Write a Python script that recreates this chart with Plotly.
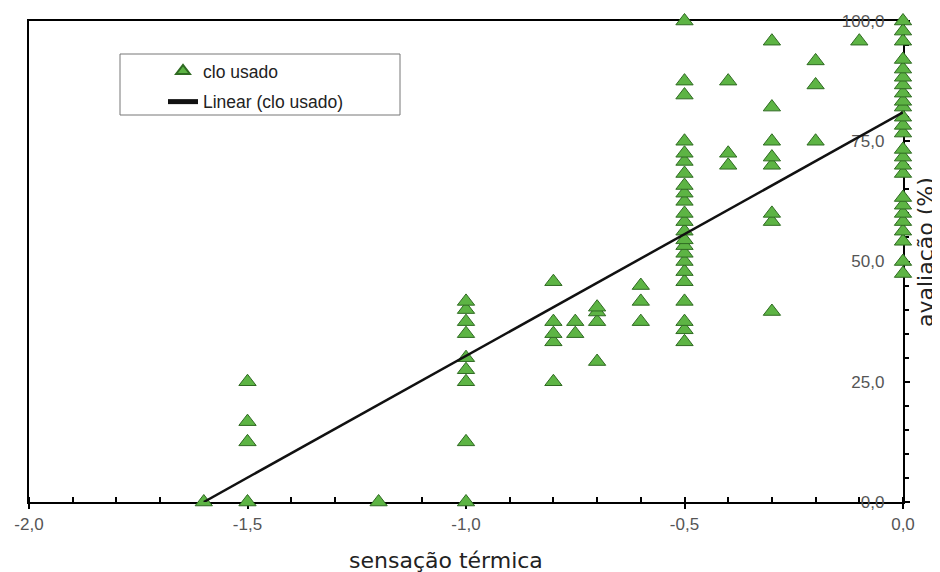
import plotly.graph_objects as go

# ---- data ----
sensacao = (
    [-1.6]
    + [-1.5] * 4
    + [-1.2]
    + [-1.0] * 9
    + [-0.8] * 5
    + [-0.75] * 2
    + [-0.7] * 4
    + [-0.6] * 3
    + [-0.5] * 23
    + [-0.4] * 3
    + [-0.3] * 8
    + [-0.2] * 3
    + [-0.1]
    + [0.0] * 25
)
avaliacao = (
    [0]
    + [0, 12.5, 16.7, 25]
    + [0]
    + [0, 12.5, 25, 27.5, 30, 35, 37.5, 40, 41.7]
    + [25, 33.3, 35, 37.5, 45.8]
    + [35, 37.5]
    + [29.2, 37.5, 39.5, 40.5]
    + [37.5, 41.7, 45]
    + [33.3, 35.8, 37.5, 41.7, 45.8, 47.9, 50, 51.7, 53.3, 54.5, 56.3, 58.3,
       60, 62.5, 64.2, 65.8, 68.3, 70.8, 72.5, 75, 84.6, 87.5, 100]
    + [70, 72.5, 87.5]
    + [39.6, 58.3, 60, 70, 71.7, 75, 82.1, 95.8]
    + [75, 86.7, 91.7]
    + [95.8]
    + [47.5, 50, 54.2, 56.3, 58.3, 60, 61.7, 63.3, 68.3, 70, 71.7, 73.3, 76.7,
       78.3, 80, 82.1, 83.3, 85, 86.7, 88.3, 90, 92, 95.8, 97.9, 100]
)

trend_x = [-1.6, 0.0]
trend_y = [0.0, 81.0]

x_tickvals = [-2.0, -1.5, -1.0, -0.5, 0.0]
x_ticktext = ["-2,0", "-1,5", "-1,0", "-0,5", "0,0"]
y_tickvals = [0, 25, 50, 75, 100]
y_ticktext = ["0,0", "25,0", "50,0", "75,0", "100,0"]

series_name = "clo usado"
trend_name = "Linear (clo usado)"
x_title = "sensação térmica"
y_title = "avaliação (%)"

# ---- figure ----
# the page body adds an 8 px offset; the figure is sized to compensate
OFF = 8
W, H = 940 - OFF, 572 - OFF
PL, PR, PT, PB = 29, 903, 21, 502          # plot area in page pixels
L, T = PL - OFF, PT - OFF
R, B = W - (PR - OFF), H - (PB - OFF)
pw, ph = PR - PL, PB - PT


def px_x(p):
    return (p - PL) / pw


def px_y(p):
    return (PB - p) / ph


fig = go.Figure()
fig.add_trace(go.Scatter(
    x=sensacao, y=avaliacao, mode="markers", name=series_name,
    legendgroup="a",
    marker=dict(symbol="triangle-up", size=15, color="#5DB444",
                line=dict(color="#2F6A22", width=1)),
    cliponaxis=False,
))
fig.add_trace(go.Scatter(
    x=trend_x, y=trend_y, mode="lines", name=trend_name,
    legendgroup="b",
    line=dict(color="#111111", width=2.5),
    cliponaxis=False,
))

tick_font = dict(family="Liberation Sans, Arial, sans-serif", size=17, color="#555555")
title_font = dict(family="DejaVu Sans, Verdana, sans-serif", size=22, color="#222222")

fig.update_layout(
    width=W, height=H,
    margin=dict(l=L, r=R, t=T, b=B, autoexpand=False),
    paper_bgcolor="white", plot_bgcolor="white",
    showlegend=True,
    legend=dict(
        x=px_x(163), y=px_y(53), xanchor="left", yanchor="top",
        bgcolor="rgba(0,0,0,0)", borderwidth=0,
        font=dict(family="Liberation Sans, Arial, sans-serif", size=17.5, color="#222222"),
        traceorder="grouped", tracegroupgap=5, itemsizing="constant",
    ),
    shapes=[dict(
        type="rect", xref="paper", yref="paper",
        x0=px_x(120), x1=px_x(400), y0=px_y(115), y1=px_y(54),
        line=dict(color="#777777", width=1), fillcolor="rgba(0,0,0,0)",
        layer="below",
    )],
    annotations=[
        dict(text=y_title, xref="paper", yref="paper",
             x=px_x(925), y=px_y(252), xanchor="center", yanchor="middle",
             textangle=-90, showarrow=False, font=title_font),
        dict(text=x_title, xref="paper", yref="paper",
             x=px_x(446), y=px_y(560), xanchor="center", yanchor="middle",
             showarrow=False, font=title_font),
    ],
    xaxis=dict(
        range=[-2, 0], showgrid=False, zeroline=False, automargin=False,
        showline=True, linecolor="black", linewidth=2, mirror=True,
        tickmode="array", tickvals=x_tickvals, ticktext=x_ticktext,
        ticks="outside", ticklen=5, tickwidth=2, tickcolor="black",
        ticklabeloverflow="allow", ticklabelstandoff=1,
        minor=dict(dtick=0.1, ticks="inside", ticklen=5, tickwidth=1.5,
                   tickcolor="black", showgrid=False),
        tickfont=tick_font,
        layer="below traces",
    ),
    yaxis=dict(
        range=[0, 100], side="right", showgrid=False, zeroline=False, automargin=False,
        showline=True, linecolor="black", linewidth=2, mirror=True,
        tickmode="array", tickvals=y_tickvals, ticktext=y_ticktext,
        ticks="outside", ticklen=5, tickwidth=2, tickcolor="black",
        ticklabelposition="inside", ticklabelstandoff=19, ticklabeloverflow="allow",
        minor=dict(dtick=5, ticks="outside", ticklen=4, tickwidth=1.5,
                   tickcolor="black", showgrid=False),
        tickfont=tick_font,
        layer="below traces",
    ),
)

fig.write_html("out.html")
